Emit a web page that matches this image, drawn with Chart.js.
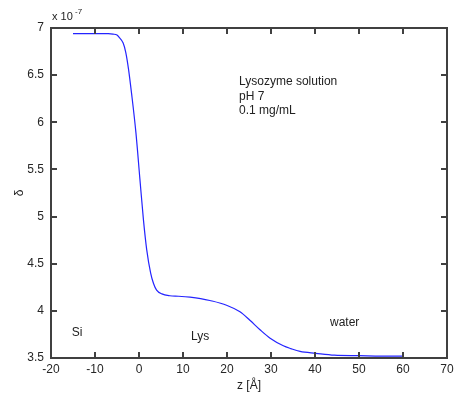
<!DOCTYPE html>
<html>
<head>
<meta charset="utf-8">
<script src="https://cdn.jsdelivr.net/npm/chart.js@4/dist/chart.umd.min.js"></script>
<style>
  html, body { margin: 0; padding: 0; background: #fff; }
</style>
</head>
<body>
<canvas id="profileChart" width="456" height="394"></canvas>
<script>
'use strict';
// z in Angstrom, delta in units of 1e-7
var zValues = [-15, -10, -7, -5.9, -5, -4.5, -3.6, -3, -2.4, -1.7, -0.7, 0.2, 1, 1.75, 2.65, 3.3, 4, 5.2, 7, 9, 11.6, 14, 16.1, 19.9, 22.95, 25.2, 27.5, 29.8, 32.8, 34.5, 36.6, 40.2, 44.4, 50, 55, 60];
var deltaValues = [6.94, 6.94, 6.94, 6.935, 6.925, 6.9, 6.84, 6.74, 6.57, 6.31, 5.89, 5.4, 4.97, 4.65, 4.4, 4.29, 4.22, 4.18, 4.16, 4.155, 4.145, 4.13, 4.11, 4.06, 3.99, 3.9, 3.8, 3.71, 3.63, 3.6, 3.57, 3.55, 3.53, 3.525, 3.52, 3.52];
var xTickRange = [-20, 70, 10];
var yTickRange = [3.5, 7, 0.5];
var infoLines = ['Lysozyme solution', 'pH 7', '0.1 mg/mL'];
var regionLabels = [{text: 'Si', z: -15.3, d: 3.77}, {text: 'Lys', z: 11.8, d: 3.73}, {text: 'water', z: 43.4, d: 3.87}];

var points = [];
for (var i = 0; i < zValues.length; i++) {
  points.push({x: zValues[i], y: deltaValues[i]});
}

var FONT = '"Liberation Sans", Arial, sans-serif';
var AXIS_COLOR = '#404040';

// box, inward ticks, annotation texts
var boxPlugin = {
  id: 'boxPlugin',
  afterDraw: function (chart) {
    var ctx = chart.ctx;
    var area = chart.chartArea;
    var xs = chart.scales.x;
    var ys = chart.scales.y;
    var l = Math.round(area.left), r = Math.round(area.right);
    var tp = Math.round(area.top), b = Math.round(area.bottom);
    ctx.save();
    ctx.fillStyle = AXIS_COLOR;
    ctx.fillRect(l - 1, tp - 1, r - l + 2, 2);
    ctx.fillRect(l - 1, b - 1, r - l + 2, 2);
    ctx.fillRect(l - 1, tp - 1, 2, b - tp + 2);
    ctx.fillRect(r - 1, tp - 1, 2, b - tp + 2);
    xs.ticks.forEach(function (tk) {
      var px = Math.round(xs.getPixelForValue(tk.value));
      ctx.fillRect(px - 1, b - 6, 2, 6);
      ctx.fillRect(px - 1, tp, 2, 6);
    });
    ys.ticks.forEach(function (tk) {
      var py = Math.round(ys.getPixelForValue(tk.value));
      ctx.fillRect(l, py - 1, 6, 2);
      ctx.fillRect(r - 6, py - 1, 6, 2);
    });

    ctx.fillStyle = '#222';
    ctx.textBaseline = 'middle';
    ctx.textAlign = 'left';
    ctx.font = '12px ' + FONT;
    for (var k = 0; k < infoLines.length; k++) {
      ctx.fillText(infoLines[k], 239, 82 + k * 14.5);
    }
    regionLabels.forEach(function (rl) {
      ctx.fillText(rl.text, xs.getPixelForValue(rl.z), ys.getPixelForValue(rl.d));
    });
    ctx.font = '11px ' + FONT;
    ctx.fillText('x 10', 52, 17);
    ctx.font = '8px ' + FONT;
    ctx.fillText('-7', 75, 12);
    ctx.font = '12px ' + FONT;
    ctx.textAlign = 'center';
    ctx.fillText('z [\u00c5]', (area.left + area.right) / 2, 386);
    ctx.translate(20, (area.top + area.bottom) / 2);
    ctx.rotate(-Math.PI / 2);
    ctx.fillText('\u03b4', 0, 0);
    ctx.restore();
  }
};

function noPad(s) {
  s.paddingLeft = 0; s.paddingRight = 0; s.paddingTop = 0; s.paddingBottom = 0;
}

var chart = new Chart(document.getElementById('profileChart'), {
  type: 'scatter',
  data: {
    datasets: [{
      data: points,
      showLine: true,
      borderColor: '#2424ff',
      borderWidth: 1.2,
      pointRadius: 0,
      cubicInterpolationMode: 'monotone',
      fill: false
    }]
  },
  options: {
    responsive: false,
    animation: false,
    layout: {padding: {left: 0, right: 9, top: 28, bottom: 0}},
    plugins: {legend: {display: false}, tooltip: {enabled: false}},
    scales: {
      x: {
        type: 'linear',
        min: xTickRange[0],
        max: xTickRange[1],
        grid: {display: false, drawTicks: false},
        border: {display: false},
        ticks: {stepSize: xTickRange[2], padding: 4, color: '#262626', font: {family: FONT, size: 12}, maxRotation: 0},
        afterFit: function (s) { s.height = 36; noPad(s); }
      },
      y: {
        type: 'linear',
        min: yTickRange[0],
        max: yTickRange[1],
        grid: {display: false, drawTicks: false},
        border: {display: false},
        ticks: {stepSize: yTickRange[2], padding: 7, color: '#262626', font: {family: FONT, size: 12},
          callback: function (v) { return String(Math.round(v * 10) / 10); }},
        afterFit: function (s) { s.width = 51; noPad(s); }
      }
    }
  },
  plugins: [boxPlugin]
});
</script>
</body>
</html>
